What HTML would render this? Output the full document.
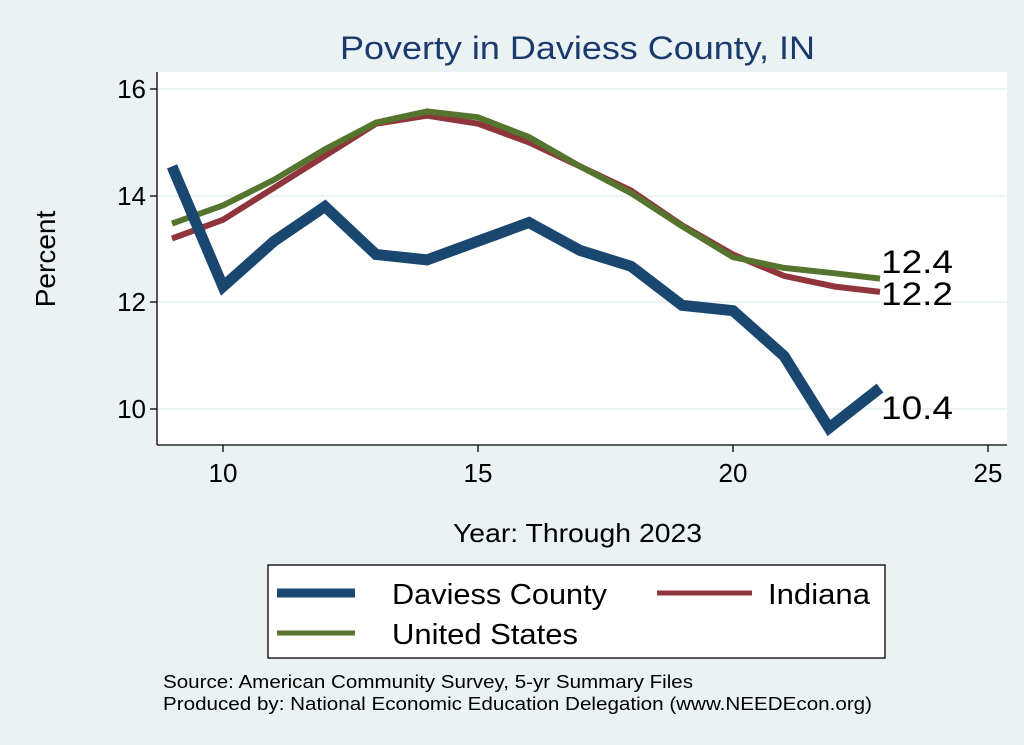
<!DOCTYPE html>
<html><head><meta charset="utf-8"><style>
html,body{margin:0;padding:0;background:#eaf2f3;}
svg{display:block;font-family:"Liberation Sans",Arial,sans-serif;}
</style></head><body>
<svg width="1024" height="745" viewBox="0 0 1024 745">
<rect width="1024" height="745" fill="#eaf2f3"/>
<rect x="157" y="72" width="850" height="373" fill="#fff"/>
<g stroke="#eaf2f3" stroke-width="2">
<line x1="158" y1="89" x2="1007" y2="89"/><line x1="158" y1="196" x2="1007" y2="196"/>
<line x1="158" y1="302" x2="1007" y2="302"/><line x1="158" y1="409" x2="1007" y2="409"/>
</g>
<g stroke="#000" stroke-width="1.3">
<line x1="157" y1="72" x2="157" y2="445"/><line x1="157" y1="445" x2="1007" y2="445"/>
<line x1="150" y1="89" x2="157" y2="89"/><line x1="150" y1="196" x2="157" y2="196"/>
<line x1="150" y1="302" x2="157" y2="302"/><line x1="150" y1="409" x2="157" y2="409"/>
<line x1="223" y1="445" x2="223" y2="452"/><line x1="478" y1="445" x2="478" y2="452"/>
<line x1="733" y1="445" x2="733" y2="452"/><line x1="988" y1="445" x2="988" y2="452"/>
</g>
<g font-size="26" fill="#000" text-anchor="end">
<text x="146" y="98">16</text><text x="146" y="205">14</text><text x="146" y="311">12</text><text x="146" y="418">10</text>
</g>
<g font-size="26" fill="#000" text-anchor="middle">
<text x="223" y="482">10</text><text x="478" y="482">15</text><text x="733" y="482">20</text><text x="988" y="482">25</text>
</g>
<text x="453" y="542" font-size="26" textLength="249" lengthAdjust="spacingAndGlyphs">Year: Through 2023</text>
<text x="340" y="59" font-size="32" fill="#1a3a6e" textLength="475" lengthAdjust="spacingAndGlyphs">Poverty in Daviess County, IN</text>
<text transform="translate(55,259) rotate(-90)" font-size="28" text-anchor="middle">Percent</text>
<g fill="none" stroke-linejoin="miter">
<polyline stroke="#90353b" stroke-width="6" points="172,238.5 223,219.8 274,187.8 325,155.8 376,123.7 427,115.7 478,123.7 529,142.4 580,166.4 631,190.5 682,225.2 733,254.5 784,275.9 835,286.6 880,291.9"/>
<polyline stroke="#55752f" stroke-width="6" points="172,223.6 223,205.4 274,179.8 325,149.3 376,122.6 427,111.4 478,117.3 529,137.1 580,166.4 631,193.1 682,226.2 733,257.2 784,267.9 835,273.3 880,278.6"/>
<polyline stroke="#1a476f" stroke-width="11" points="172,166.4 223,286.6 274,241.2 325,206.5 376,254.5 427,259.9 478,241.2 529,222.5 580,250.4 631,266.3 682,305.3 733,310.6 784,356 829,428 880,388"/>
</g>
<g font-size="32" fill="#000">
<text x="881" y="273" textLength="72" lengthAdjust="spacingAndGlyphs">12.4</text><text x="881" y="305" textLength="72" lengthAdjust="spacingAndGlyphs">12.2</text><text x="881" y="419" textLength="72" lengthAdjust="spacingAndGlyphs">10.4</text>
</g>
<rect x="268" y="565" width="617" height="93" fill="#fff" stroke="#000" stroke-width="1.3"/>
<line x1="277" y1="593" x2="355" y2="593" stroke="#1a476f" stroke-width="9"/>
<line x1="657" y1="593" x2="752" y2="593" stroke="#90353b" stroke-width="5"/>
<line x1="277" y1="633" x2="355" y2="633" stroke="#55752f" stroke-width="5"/>
<g font-size="29" fill="#000">
<text x="392" y="604" textLength="215" lengthAdjust="spacingAndGlyphs">Daviess County</text><text x="768" y="604" textLength="102" lengthAdjust="spacingAndGlyphs">Indiana</text><text x="392" y="644" textLength="186" lengthAdjust="spacingAndGlyphs">United States</text>
</g>
<g font-size="18" fill="#000">
<text x="163" y="688" textLength="530" lengthAdjust="spacingAndGlyphs">Source: American Community Survey, 5-yr Summary Files</text>
<text x="163" y="710" textLength="709" lengthAdjust="spacingAndGlyphs">Produced by: National Economic Education Delegation (www.NEEDEcon.org)</text>
</g>
</svg>
</body></html>
